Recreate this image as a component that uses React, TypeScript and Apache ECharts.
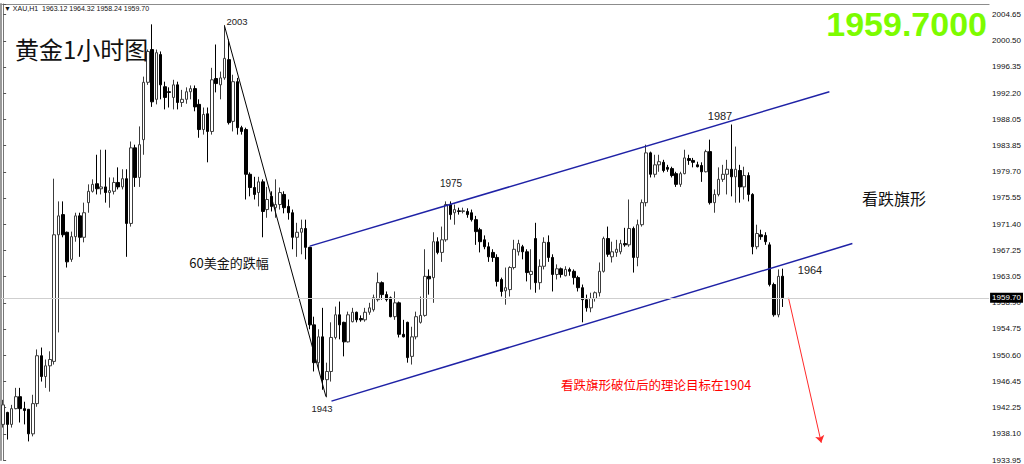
import React, { useEffect, useRef } from "react";
import * as echarts from "echarts";

// ---- XAU H1 candles ----
const OPEN = [
  1939.6, 1941.5, 1939.6, 1942.1, 1944.0, 1942.1, 1942.0, 1938.1, 1942.9, 1950.5,
  1947.2, 1948.9, 1949.6, 1969.7, 1972.9, 1970.1, 1965.8, 1969.4, 1972.7, 1969.3,
  1974.8, 1976.6, 1977.8, 1977.0, 1977.3, 1976.4, 1976.6, 1978.0, 1977.3, 1978.6,
  1971.5, 1983.5, 1978.8, 1984.8, 1993.9, 1999.1, 1991.2, 1998.3, 1993.2, 1992.4,
  1991.5, 1993.5, 1990.7, 1991.2, 1992.4, 1992.9, 1990.4, 1986.4, 1988.9, 1986.1,
  1994.5, 1993.5, 1994.6, 1997.5, 1987.7, 1994.0, 1986.7, 1986.4, 1979.3, 1977.2,
  1976.4, 1978.1, 1973.7, 1975.8, 1974.0, 1974.5, 1976.1, 1974.2, 1973.2, 1969.3,
  1970.1, 1970.7, 1967.7, 1955.4, 1949.4, 1953.5, 1946.7, 1948.0, 1953.4, 1957.0,
  1955.8, 1952.7, 1955.9, 1957.4, 1956.4, 1956.2, 1957.4, 1957.8, 1959.4, 1962.1,
  1960.2, 1959.7, 1956.7, 1958.9, 1953.9, 1955.8, 1950.4, 1953.5, 1955.8, 1956.9,
  1963.1, 1962.9, 1968.6, 1966.9, 1968.9, 1974.5, 1973.2, 1973.5, 1973.4, 1973.4,
  1973.2, 1972.1, 1970.5, 1968.9, 1967.8, 1966.9, 1966.1, 1962.6, 1960.8, 1961.0,
  1964.5, 1967.0, 1967.8, 1967.0, 1963.4, 1969.1, 1962.1, 1964.7, 1968.5, 1966.1,
  1963.4, 1964.3, 1963.2, 1964.2, 1963.9, 1962.9, 1961.3, 1959.4, 1958.1, 1959.6,
  1960.5, 1963.9, 1969.1, 1966.2, 1966.9, 1967.0, 1968.3, 1968.1, 1970.7, 1966.1,
  1971.3, 1974.8, 1982.7, 1979.3, 1980.8, 1981.2, 1980.4, 1980.2, 1979.4, 1977.7,
  1979.4, 1981.8, 1981.5, 1980.8, 1980.7, 1979.7, 1982.9, 1974.8, 1976.1, 1978.5,
  1979.3, 1980.1, 1978.9, 1979.9, 1977.3, 1979.1, 1976.1, 1967.8, 1969.7, 1969.6,
  1968.1, 1961.8, 1957.0, 1963.12,
];
const CLOSE = [
  1942.7, 1939.6, 1942.1, 1944.0, 1942.1, 1941.8, 1938.1, 1942.9, 1950.5, 1947.2,
  1948.9, 1949.9, 1969.7, 1972.7, 1969.7, 1965.4, 1969.4, 1972.7, 1969.3, 1973.2,
  1976.6, 1977.7, 1977.0, 1977.3, 1976.4, 1976.7, 1978.0, 1977.3, 1978.6, 1971.5,
  1983.5, 1978.8, 1984.0, 1993.9, 1998.8, 1990.8, 1998.6, 1993.5, 1991.5, 1992.3,
  1993.5, 1990.7, 1991.2, 1992.4, 1992.9, 1990.0, 1986.4, 1988.8, 1986.1, 1994.3,
  1993.7, 1994.6, 1997.7, 1987.5, 1994.0, 1986.7, 1986.1, 1979.3, 1977.2, 1976.1,
  1978.1, 1973.4, 1975.3, 1974.2, 1974.5, 1976.4, 1974.0, 1973.2, 1969.3, 1970.1,
  1970.7, 1967.7, 1955.4, 1949.4, 1953.5, 1946.7, 1948.0, 1953.4, 1957.0, 1955.4,
  1952.7, 1957.0, 1957.4, 1956.2, 1956.2, 1957.4, 1958.1, 1959.7, 1962.1, 1960.2,
  1959.4, 1956.7, 1958.9, 1953.9, 1953.5, 1950.2, 1953.5, 1956.7, 1956.9, 1963.1,
  1962.7, 1968.6, 1966.9, 1968.9, 1974.5, 1972.9, 1973.7, 1973.4, 1973.5, 1972.9,
  1972.1, 1970.2, 1968.6, 1967.8, 1966.2, 1966.1, 1962.3, 1960.7, 1961.3, 1964.5,
  1967.4, 1968.3, 1967.0, 1963.7, 1963.9, 1962.1, 1964.7, 1968.5, 1966.1, 1963.4,
  1964.3, 1963.4, 1964.2, 1963.9, 1962.9, 1961.3, 1959.4, 1958.1, 1959.6, 1960.5,
  1963.9, 1969.1, 1966.6, 1967.0, 1967.4, 1968.3, 1968.1, 1970.7, 1966.1, 1971.3,
  1974.8, 1982.7, 1979.3, 1980.8, 1981.3, 1979.9, 1980.1, 1979.1, 1977.7, 1979.4,
  1981.9, 1981.5, 1981.2, 1980.5, 1979.7, 1982.9, 1974.8, 1976.1, 1978.5, 1979.3,
  1980.1, 1978.9, 1980.1, 1977.3, 1979.1, 1976.1, 1967.8, 1969.9, 1969.4, 1968.6,
  1961.8, 1957.0, 1963.1, 1959.70,
];
const LOW = [
  1939.1, 1937.2, 1939.1, 1942.0, 1939.9, 1939.6, 1936.9, 1937.7, 1942.4, 1946.4,
  1945.4, 1944.8, 1949.1, 1954.2, 1969.3, 1964.5, 1965.4, 1968.6, 1966.2, 1968.5,
  1973.2, 1976.4, 1976.1, 1976.1, 1974.8, 1974.0, 1976.1, 1976.9, 1976.9, 1966.2,
  1971.0, 1977.3, 1977.3, 1982.4, 1993.5, 1990.0, 1990.4, 1991.2, 1989.6, 1989.9,
  1989.6, 1989.6, 1990.0, 1990.5, 1991.2, 1989.3, 1985.1, 1985.6, 1981.2, 1985.6,
  1992.3, 1991.2, 1994.3, 1987.2, 1986.1, 1985.6, 1985.6, 1975.3, 1975.8, 1975.3,
  1974.2, 1969.3, 1972.4, 1973.4, 1972.4, 1973.7, 1973.1, 1972.1, 1967.4, 1966.2,
  1966.6, 1965.8, 1954.7, 1948.0, 1948.3, 1945.1, 1943.9, 1946.4, 1953.1, 1953.1,
  1950.4, 1952.6, 1955.8, 1955.8, 1955.9, 1955.9, 1957.0, 1957.5, 1959.1, 1959.4,
  1959.1, 1956.6, 1956.2, 1953.4, 1953.4, 1949.4, 1949.1, 1953.1, 1955.6, 1956.7,
  1960.2, 1958.9, 1966.6, 1965.4, 1968.6, 1972.1, 1971.3, 1972.9, 1973.1, 1972.4,
  1971.8, 1968.1, 1966.9, 1967.4, 1965.4, 1965.4, 1961.5, 1959.9, 1958.6, 1959.9,
  1964.2, 1966.4, 1965.8, 1962.3, 1961.0, 1960.5, 1961.0, 1964.2, 1965.4, 1960.7,
  1962.6, 1962.9, 1963.1, 1963.2, 1961.8, 1960.7, 1955.8, 1957.5, 1957.4, 1959.1,
  1959.9, 1963.7, 1966.2, 1965.3, 1966.2, 1966.6, 1967.8, 1967.8, 1963.7, 1964.7,
  1971.0, 1974.2, 1978.8, 1978.8, 1979.7, 1979.6, 1979.7, 1978.8, 1977.3, 1977.3,
  1979.3, 1980.8, 1980.4, 1980.4, 1978.1, 1979.6, 1974.5, 1973.2, 1975.8, 1978.1,
  1976.1, 1975.8, 1974.8, 1974.8, 1975.3, 1975.0, 1966.6, 1967.4, 1968.9, 1968.1,
  1961.5, 1956.7, 1956.6, 1958.24,
];
const HIGH = [
  1943.5, 1941.6, 1942.7, 1945.4, 1945.4, 1943.2, 1942.0, 1944.3, 1951.5, 1951.8,
  1949.9, 1951.2, 1978.6, 1975.0, 1975.0, 1970.2, 1970.2, 1973.2, 1973.2, 1974.8,
  1977.7, 1978.5, 1982.4, 1983.2, 1983.2, 1978.8, 1978.8, 1980.4, 1980.1, 1980.1,
  1984.5, 1984.0, 1986.9, 1994.8, 1999.1, 2003.1, 1999.1, 1998.8, 1994.0, 1993.1,
  1994.3, 1994.0, 1992.7, 1993.1, 1993.4, 1993.4, 1991.2, 1989.9, 1989.9, 1996.2,
  1999.9, 1995.6, 2003.0, 2000.7, 1995.1, 1994.6, 1987.0, 1986.7, 1979.6, 1978.9,
  1978.9, 1978.5, 1977.3, 1976.6, 1978.5, 1977.2, 1976.6, 1975.3, 1973.7, 1971.6,
  1972.1, 1972.1, 1967.8, 1956.7, 1954.7, 1958.1, 1949.4, 1955.8, 1958.3, 1959.1,
  1955.9, 1957.5, 1958.1, 1957.5, 1956.9, 1958.1, 1958.9, 1960.2, 1963.7, 1962.3,
  1960.7, 1959.9, 1960.7, 1959.1, 1956.2, 1955.9, 1955.1, 1957.5, 1959.9, 1967.4,
  1964.2, 1970.1, 1969.3, 1971.0, 1975.0, 1975.0, 1974.5, 1974.0, 1974.0, 1973.9,
  1973.7, 1972.7, 1970.8, 1969.6, 1968.5, 1967.4, 1966.6, 1962.9, 1964.5, 1964.7,
  1968.9, 1968.9, 1968.1, 1967.4, 1967.4, 1971.6, 1965.8, 1969.3, 1969.6, 1966.6,
  1965.0, 1964.5, 1964.7, 1964.5, 1964.2, 1963.2, 1961.8, 1960.2, 1960.5, 1960.7,
  1965.3, 1969.4, 1971.0, 1968.6, 1968.9, 1968.9, 1970.8, 1975.3, 1971.0, 1972.1,
  1975.3, 1984.0, 1982.9, 1982.4, 1982.4, 1981.6, 1980.8, 1980.5, 1979.7, 1979.7,
  1983.2, 1982.4, 1981.9, 1981.3, 1981.2, 1983.2, 1984.8, 1976.9, 1980.4, 1980.8,
  1981.6, 1987.2, 1983.7, 1980.8, 1980.5, 1979.6, 1976.3, 1971.3, 1970.5, 1970.1,
  1968.5, 1962.1, 1964.2, 1964.32,
];

// bar slots on the time axis (the right part is empty space in the terminal)
const SLOT_COUNT = 232;
const CATEGORIES = Array.from({ length: SLOT_COUNT }, (_, i) => String(i + 1));

// price scale tick labels
const Y_TICKS = [
  "1933.95", "1938.10", "1942.25", "1946.45", "1950.60", "1954.75",
  "1958.90", "1963.05", "1967.25", "1971.40", "1975.55", "1979.70",
  "1983.85", "1988.05", "1992.20", "1996.35", "2000.50", "2004.65",
];
const Y_MIN = 1933.95;
const Y_MAX = 2006.33;
const Y_STEP = (2004.65 - 1933.95) / 17;

const LAST_PRICE = 1959.7;

// drawn objects: [bar index, price]
const TREND_LINE = [[52.0, 2002.8], [75.8, 1944.0]];
const CHANNEL_UPPER = [[72.0, 1967.9], [194.0, 1992.4]];
const CHANNEL_LOWER = [[77.1, 1943.3], [199.4, 1968.3]];
const TARGET_ARROW = [[184.4, 1959.7], [192.1, 1936.7]];

export default function App() {
  const ref = useRef<HTMLDivElement>(null);

  useEffect(() => {
    if (!ref.current) return;
    const chart = echarts.init(ref.current, undefined, { renderer: "svg" });

    const candles = OPEN.map((o, i) => [o, CLOSE[i], LOW[i], HIGH[i]]);
    const numFont = "Liberation Sans";
    const cjk = "Noto Sans CJK SC";

    const txt = (
      text: string,
      x: number,
      y: number,
      size: number,
      color = "#222",
      family = numFont,
      weight: string = "normal",
      align: string = "center"
    ) => ({
      type: "text",
      x,
      y,
      silent: true,
      z: 100,
      style: {
        text,
        fill: color,
        fontSize: size,
        fontFamily: family,
        fontWeight: weight,
        align,
        textAlign: align,
        verticalAlign: "middle",
        textVerticalAlign: "middle",
      },
    });

    chart.setOption({
      animation: false,
      backgroundColor: "#ffffff",
      grid: { left: 1, right: 34, top: 4, bottom: 4, containLabel: false },
      xAxis: [
        {
          type: "category",
          data: CATEGORIES,
          position: "top",
          boundaryGap: true,
          axisLine: { show: true, lineStyle: { color: "#8c8c8c", width: 1 } },
          axisTick: { show: false },
          axisLabel: { show: false },
          splitLine: { show: false },
        },
        {
          type: "value",
          min: -0.5,
          max: SLOT_COUNT - 0.5,
          show: false,
        },
      ],
      yAxis: [
        {
          type: "value",
          position: "right",
          min: Y_MIN,
          max: Y_MAX,
          interval: Y_STEP,
          scale: true,
          axisLine: { show: true, lineStyle: { color: "#777", width: 1 } },
          axisTick: { show: true, length: 3, lineStyle: { color: "#555" } },
          splitLine: { show: false },
          axisLabel: {
            show: true,
            margin: 3,
            fontSize: 8,
            color: "#111",
            fontFamily: numFont,
            formatter: (v: number) => {
              const k = Math.round((v - Y_MIN) / Y_STEP);
              if (Math.abs(Y_MIN + k * Y_STEP - v) > 0.01) return "";
              return Y_TICKS[k] ?? "";
            },
          },
        },
        {
          type: "value",
          position: "left",
          min: Y_MIN,
          max: Y_MAX,
          axisLine: { show: true, lineStyle: { color: "#9a9a9a", width: 2 } },
          axisTick: { show: false },
          axisLabel: { show: false },
          splitLine: { show: false },
        },
      ],
      series: [
        {
          type: "candlestick",
          xAxisIndex: 0,
          yAxisIndex: 0,
          data: candles,
          barWidth: 3,
          itemStyle: {
            color: "#ffffff",
            color0: "#000000",
            borderColor: "#3c3c3c",
            borderColor0: "#000000",
            borderWidth: 1,
          },
          markLine: {
            silent: true,
            symbol: ["none", "none"],
            z: 10,
            lineStyle: { color: "#cfcfcf", type: "solid", width: 1 },
            label: {
              show: true,
              position: "end",
              distance: 1,
              formatter: LAST_PRICE.toFixed(2),
              backgroundColor: "#000",
              color: "#fff",
              fontSize: 8,
              fontFamily: numFont,
              padding: [1, 2, 1, 2],
            },
            data: [{ yAxis: LAST_PRICE }],
          },
          z: 3,
        },
        {
          type: "lines",
          coordinateSystem: "cartesian2d",
          xAxisIndex: 1,
          yAxisIndex: 0,
          polyline: false,
          silent: true,
          symbol: "none",
          z: 4,
          lineStyle: { opacity: 1 },
          data: [
            { coords: TREND_LINE, lineStyle: { color: "#000", width: 1, opacity: 1 } },
            { coords: CHANNEL_UPPER, lineStyle: { color: "#1f22a6", width: 1.5, opacity: 1 } },
            { coords: CHANNEL_LOWER, lineStyle: { color: "#1f22a6", width: 1.5, opacity: 1 } },
          ],
        },
        {
          type: "lines",
          coordinateSystem: "cartesian2d",
          xAxisIndex: 1,
          yAxisIndex: 0,
          polyline: false,
          silent: true,
          symbol: ["none", "arrow"],
          symbolSize: 7,
          z: 4,
          lineStyle: { opacity: 1 },
          data: [{ coords: TARGET_ARROW, lineStyle: { color: "#ff2a2a", width: 1, opacity: 1 } }],
        },
      ],
      graphic: [
        txt("▼ XAU,H1  1963.12 1964.32 1958.24 1959.70", 4, 8, 7, "#111", numFont, "normal", "left"),
        txt("黄金1小时图", 15, 48, 24, "#111", cjk, "normal", "left"),
        txt("1959.7000", 987, 24, 34, "#7cfc00", numFont, "bold", "right"),
        txt("2003", 237, 21, 9.5),
        txt("1975", 451, 183, 10),
        txt("1987", 720, 116, 11),
        txt("1964", 810, 270, 11),
        txt("1943", 322, 408, 9.5),
        txt("60美金的跌幅", 229, 262, 13, "#111", cjk),
        txt("看跌旗形", 894, 198, 16, "#111", cjk),
        txt("看跌旗形破位后的理论目标在1904", 656, 384, 12.5, "#ff0000", cjk),
      ],
    });

    return () => chart.dispose();
  }, []);

  return (
    <div
      ref={ref}
      style={{ position: "absolute", left: 0, top: 0, width: 1024, height: 464, background: "#fff" }}
    />
  );
}
